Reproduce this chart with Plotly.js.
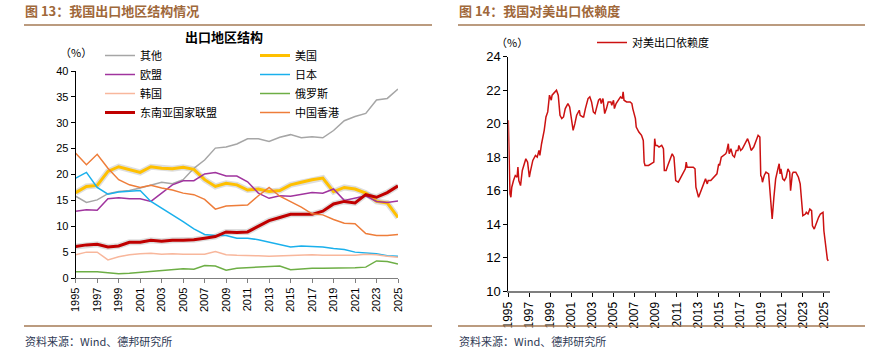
<!DOCTYPE html>
<html>
<head>
<meta charset="utf-8">
<script src="https://cdn.plot.ly/plotly-3.0.1.min.js"></script>
<style>
html,body{margin:0;padding:0;background:#fff;}
#chart{width:892px;height:354px;}
</style>
</head>
<body>
<div id="chart"></div>
<script>
// ---- Left chart: export structure by region (%), annual ----
const years = [1995,1996,1997,1998,1999,2000,2001,2002,2003,2004,2005,2006,2007,2008,2009,2010,2011,2012,2013,2014,2015,2016,2017,2018,2019,2020,2021,2022,2023,2024,2025];
const other  = [15.8,14.6,15.1,16.3,16.7,16.9,17.4,18.0,18.5,18.2,19.0,21.2,22.8,25.1,25.3,25.9,26.9,26.9,26.4,27.2,27.7,27.1,27.3,27.1,28.5,30.4,31.2,31.8,34.4,34.7,36.5];
const usa    = [16.5,17.7,17.9,20.6,21.5,21.0,20.4,21.5,21.2,21.1,21.4,21.0,19.0,17.7,18.3,18.0,17.0,17.2,16.7,16.9,18.0,18.5,19.0,19.3,16.7,17.5,17.2,16.4,14.8,14.5,11.7];
const eu     = [12.9,13.2,13.1,15.3,15.5,15.3,15.3,14.8,16.4,18.0,18.8,18.8,20.1,20.4,19.7,19.7,18.6,16.4,15.4,15.9,15.8,16.2,16.5,16.4,17.2,15.0,15.4,15.9,14.8,14.6,14.9];
const japan  = [19.3,20.4,17.5,16.2,16.6,16.7,16.9,14.8,13.5,12.3,10.9,9.5,8.4,8.2,8.2,7.7,7.7,7.4,6.9,6.4,6.0,6.2,6.1,6.0,5.7,5.5,5.0,4.9,4.7,4.3,4.2];
const korea  = [4.5,5.0,5.0,3.5,4.1,4.5,4.7,4.8,4.6,4.7,4.6,4.6,4.6,5.1,4.5,4.4,4.4,4.3,4.2,4.3,4.4,4.4,4.5,4.4,4.4,4.4,4.4,4.6,4.5,4.2,4.0];
const russia = [1.2,1.2,1.2,1.0,0.8,0.9,1.1,1.2,1.5,1.6,1.8,1.7,2.4,2.3,1.5,1.9,2.0,2.1,2.2,2.3,1.6,1.8,1.9,1.9,1.9,1.9,2.0,2.1,3.3,3.2,2.7];
const asean  = [6.1,6.4,6.5,6.0,6.2,6.9,6.9,7.3,7.1,7.3,7.3,7.4,7.7,8.0,8.9,8.8,8.9,10.0,11.1,11.7,12.3,12.3,12.3,12.9,14.3,14.8,14.5,16.1,15.6,16.5,17.8];
const hongkong = [24.1,21.9,23.9,21.2,19.0,18.0,17.5,17.9,17.4,17.0,16.4,16.1,15.2,13.3,13.9,14.0,14.1,15.9,17.5,15.8,14.7,13.7,12.4,12.2,11.3,10.6,10.5,8.6,8.2,8.2,8.4];
const leftTicks = [1995,1997,1999,2001,2003,2005,2007,2009,2011,2013,2015,2017,2019,2021,2023,2025];

// ---- Right chart: dependence on US exports (%), monthly ----
const usDates = ["1995-01","1995-02","1995-03","1995-04","1995-05","1995-07","1995-09","1995-11","1995-12","1996-01","1996-03","1996-05","1996-07","1996-09","1996-11","1997-01","1997-02","1997-05","1997-08","1997-10","1997-12","1998-01","1998-03","1998-06","1998-08","1998-10","1998-12","1999-02","1999-03","1999-06","1999-08","1999-10","1999-12","2000-02","2000-04","2000-06","2000-09","2000-11","2001-01","2001-03","2001-05","2001-07","2001-10","2001-11","2002-02","2002-03","2002-05","2002-08","2002-10","2002-12","2003-02","2003-04","2003-06","2003-08","2003-10","2003-11","2004-01","2004-03","2004-05","2004-07","2004-10","2004-11","2005-01","2005-02","2005-04","2005-07","2005-09","2005-11","2005-12","2006-01","2006-04","2006-08","2006-10","2006-11","2007-02","2007-03","2007-06","2007-09","2007-11","2007-12","2008-01","2008-05","2008-08","2008-10","2008-11","2008-12","2009-01","2009-03","2009-05","2009-08","2009-10","2009-11","2010-01","2010-03","2010-06","2010-08","2010-10","2010-12","2011-03","2011-05","2011-08","2011-11","2011-12","2012-01","2012-04","2012-08","2012-10","2012-11","2013-02","2013-04","2013-06","2013-08","2013-10","2013-12","2014-01","2014-04","2014-07","2014-10","2014-11","2015-01","2015-02","2015-04","2015-07","2015-09","2015-10","2015-12","2016-01","2016-03","2016-05","2016-07","2016-09","2016-11","2016-12","2017-02","2017-04","2017-07","2017-10","2017-12","2018-02","2018-05","2018-08","2018-10","2018-12","2019-01","2019-02","2019-03","2019-05","2019-07","2019-10","2019-11","2020-01","2020-02","2020-04","2020-06","2020-09","2020-10","2020-11","2020-12","2021-02","2021-04","2021-06","2021-08","2021-10","2021-11","2022-01","2022-02","2022-05","2022-08","2022-10","2022-12","2023-01","2023-04","2023-05","2023-07","2023-09","2023-11","2023-12","2024-02","2024-04","2024-07","2024-09","2024-12","2025-01","2025-03","2025-04","2025-05","2025-06"];
const usShare = [20.2,16.6,15.8,15.6,16.2,16.6,16.9,16.8,17.4,16.6,16.3,17.2,17.6,17.9,17.7,16.8,17.1,17.8,18.1,18.0,18.4,18.1,18.8,19.6,20.4,20.7,21.7,21.4,21.7,21.9,22.0,21.7,20.5,20.3,20.4,20.9,21.2,21.0,20.2,19.6,20.0,20.5,20.8,20.5,20.4,20.4,20.9,21.5,21.6,21.3,20.7,20.6,21.0,21.4,21.5,21.2,21.5,20.6,20.9,21.3,21.3,21.1,21.4,20.9,21.2,21.4,21.6,21.5,21.9,21.4,21.3,21.3,21.2,20.9,20.3,19.8,19.5,19.3,19.0,17.7,17.5,17.5,17.6,17.7,17.7,19.1,18.7,18.7,18.6,18.7,18.5,17.2,17.2,17.5,17.9,18.2,18.0,16.6,16.5,16.7,17.0,17.3,17.7,17.4,17.4,17.4,17.3,16.2,15.6,15.9,16.2,16.5,16.7,16.4,16.6,16.6,16.8,17.0,17.0,17.6,17.5,18.0,18.1,18.2,18.3,18.8,18.2,18.5,18.1,18.0,18.4,18.4,18.7,18.4,18.5,18.8,19.1,18.8,18.4,18.6,19.0,19.3,19.2,16.9,16.8,16.5,16.9,17.1,17.0,16.4,15.2,14.3,15.6,16.7,17.4,17.6,17.0,17.3,16.7,16.6,16.8,17.3,17.1,16.0,17.0,17.1,17.1,16.8,16.4,15.2,14.5,14.6,14.7,14.6,14.9,14.8,13.9,13.7,14.0,14.4,14.6,14.7,13.6,12.6,12.0,11.9,11.8];
const rightTicks = ["1995","1997","1999","2001","2003","2005","2007","2009","2011","2013","2015","2017","2019","2021","2023","2025"];

const CJK = "Noto Sans CJK SC, sans-serif";
const NUM = "Liberation Sans, Arial, sans-serif";

function line(x, y, name, color, width, legendId, extra) {
  return Object.assign({type:'scatter', mode:'lines', x:x, y:y, name:name,
    line:{color:color, width:width}, xaxis:'x', yaxis:'y', legend:legendId, hoverinfo:'skip'}, extra||{});
}

const traces = [
  line(years, usa, 'shadow', 'rgba(0,0,0,0.13)', 6, 'legend', {showlegend:false}),
  line(years, asean, 'shadow', 'rgba(0,0,0,0.13)', 6, 'legend', {showlegend:false}),
  line(years, other, '其他', '#A6A6A6', 1.5, 'legend'),
  line(years, usa, '美国', '#FFC000', 3, 'legend3'),
  line(years, eu, '欧盟', '#A0349E', 1.5, 'legend'),
  line(years, japan, '日本', '#1AB0EC', 1.5, 'legend3'),
  line(years, korea, '韩国', '#F8B79C', 1.5, 'legend'),
  line(years, russia, '俄罗斯', '#6DAE45', 1.5, 'legend3'),
  line(years, asean, '东南亚国家联盟', '#C00000', 3, 'legend'),
  line(years, hongkong, '中国香港', '#EE7D3A', 1.5, 'legend3'),
  {type:'scatter', mode:'lines', x:usDates, y:usShare, name:'对美出口依赖度',
    line:{color:'#CC1111', width:1.5}, xaxis:'x2', yaxis:'y2', legend:'legend2', hoverinfo:'skip'}
];

const W = 892, H = 354;
const px = v => v / W;
const py = v => 1 - v / H;

const axisCommon = {showgrid:false, zeroline:false, showline:true, ticks:'outside', ticklen:4,
  tickfont:{family:NUM, size:11, color:'#000'}};
const legFont = {family:CJK, size:11, color:'#000'};
const legCommon = {xanchor:'left', yanchor:'top', orientation:'v', tracegroupgap:0, itemwidth:30,
  font:legFont, bgcolor:'rgba(0,0,0,0)', borderwidth:0, traceorder:'normal'};

const layout = {
  width:W, height:H, margin:{l:0, r:0, t:0, b:0},
  paper_bgcolor:'#fff', plot_bgcolor:'#fff',
  font:{family:CJK, size:11, color:'#000'},
  xaxis: Object.assign({}, axisCommon, {domain:[px(75.7), px(398)], anchor:'y', range:[1995,2025],
    tickvals:leftTicks, ticktext:leftTicks.map(String), tickangle:-90, linecolor:'#7f7f7f', linewidth:1.2, tickcolor:'#7f7f7f',
    tickfont:{family:NUM, size:11, color:'#000'}}),
  yaxis: Object.assign({}, axisCommon, {domain:[py(278), py(71)], anchor:'x', range:[0,40], dtick:5,
    linecolor:'#000', linewidth:1, tickcolor:'#000'}),
  xaxis2: Object.assign({}, axisCommon, {domain:[px(508.3), px(830)], anchor:'y2', type:'date',
    range:['1995-01-01','2025-08-01'], tickvals:rightTicks.map(t => t + '-01-01'), ticktext:rightTicks,
    tickangle:-90, linecolor:'#7f7f7f', linewidth:2, tickcolor:'#000', ticklen:4,
    tickfont:{family:NUM, size:12, color:'#000'}}),
  yaxis2: Object.assign({}, axisCommon, {domain:[py(291), py(56.7)], anchor:'x2', range:[10,24], dtick:2,
    linecolor:'#000', linewidth:1, tickcolor:'#000', tickfont:{family:NUM, size:13, color:'#000'}}),
  legend: Object.assign({}, legCommon, {x:px(100), y:py(41)}),
  legend3: Object.assign({}, legCommon, {x:px(255), y:py(41)}),
  legend2: Object.assign({}, legCommon, {x:px(592), y:py(28)}),
  shapes:[
    {type:'line', xref:'paper', yref:'paper', x0:px(24), x1:px(432), y0:py(25), y1:py(25), line:{color:'#A57A55', width:1.5}},
    {type:'line', xref:'paper', yref:'paper', x0:px(458), x1:px(865), y0:py(25), y1:py(25), line:{color:'#A57A55', width:1.5}},
    {type:'line', xref:'paper', yref:'paper', x0:px(24), x1:px(432), y0:py(326), y1:py(326), line:{color:'#A57A55', width:1.5}},
    {type:'line', xref:'paper', yref:'paper', x0:px(458), x1:px(865), y0:py(326), y1:py(326), line:{color:'#A57A55', width:1.5}}
  ],
  annotations:[
    {text:'<b>图 13：我国出口地区结构情况</b>', xref:'paper', yref:'paper', x:px(23), y:py(11), xanchor:'left', yanchor:'middle', showarrow:false, font:{family:CJK, size:13, color:'#A0683A'}},
    {text:'<b>图 14：我国对美出口依赖度</b>', xref:'paper', yref:'paper', x:px(457), y:py(11), xanchor:'left', yanchor:'middle', showarrow:false, font:{family:CJK, size:13, color:'#A0683A'}},
    {text:'<b>出口地区结构</b>', xref:'paper', yref:'paper', x:px(224), y:py(37), xanchor:'center', yanchor:'middle', showarrow:false, font:{family:CJK, size:13, color:'#000'}},
    {text:'（%）', xref:'paper', yref:'paper', x:px(58), y:py(52), xanchor:'left', yanchor:'middle', showarrow:false, font:{family:CJK, size:11, color:'#000'}},
    {text:'（%）', xref:'paper', yref:'paper', x:px(494), y:py(42), xanchor:'left', yanchor:'middle', showarrow:false, font:{family:CJK, size:11, color:'#000'}},
    {text:'资料来源：Wind、德邦研究所', xref:'paper', yref:'paper', x:px(23), y:py(341), xanchor:'left', yanchor:'middle', showarrow:false, font:{family:CJK, size:11, color:'#2F3A55'}},
    {text:'资料来源：Wind、德邦研究所', xref:'paper', yref:'paper', x:px(457), y:py(341), xanchor:'left', yanchor:'middle', showarrow:false, font:{family:CJK, size:11, color:'#2F3A55'}}
  ]
};

Plotly.newPlot('chart', traces, layout, {staticPlot:true, displayModeBar:false});
</script>
</body>
</html>
